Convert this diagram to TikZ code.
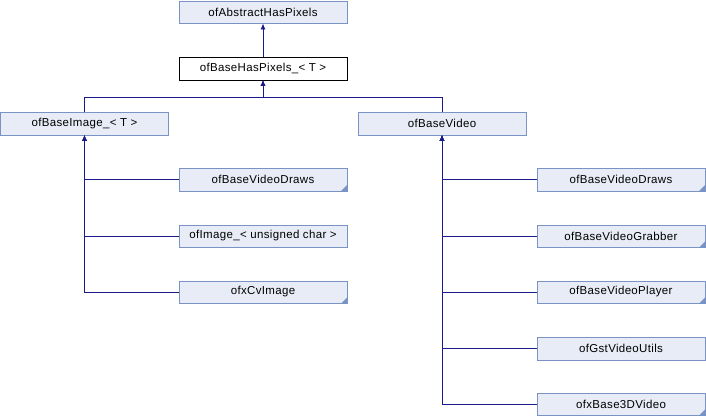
\documentclass[tikz,border=0pt]{standalone}
\usepackage{fontspec}
\setmainfont[LetterSpace=3]{Liberation Sans}
\usetikzlibrary{arrows.meta}
\definecolor{boxfill}{HTML}{E8ECF6}
\definecolor{boxline}{HTML}{7A93C5}
\definecolor{edgecol}{HTML}{1A1A8C}
\tikzset{
	classbox/.style={draw=boxline, fill=boxfill, minimum width=168pt, minimum height=22.5pt, inner sep=0pt, font=\fontsize{11.5pt}{13pt}\selectfont},
	edge/.style={draw=edgecol, line width=0.9pt, -{Latex[length=6pt,width=5pt]}},
	corner/.style={fill=boxline}
}
\begin{document}
\begin{tikzpicture}[x=1pt,y=1pt]
	\useasboundingbox (0,0) rectangle (706,-416);
	\node[classbox] (abs) at (263,-12) {ofAbstractHasPixels};
	\node[classbox, draw=black, fill=white] (base) at (263,-68.5) {ofBaseHasPixels\_< T >};
	\node[classbox] (img) at (84.5,-123.5) {ofBaseImage\_< T >};
	\node[classbox] (vid) at (442,-123.5) {ofBaseVideo};
	\node[classbox] (ldraws) at (263,-179.5) {ofBaseVideoDraws};
	\node[classbox] (limg) at (263,-236) {ofImage\_< unsigned char >};
	\node[classbox] (cvimg) at (263,-292) {ofxCvImage};
	\node[classbox] (rdraws) at (621,-179.5) {ofBaseVideoDraws};
	\node[classbox] (grab) at (621,-236) {ofBaseVideoGrabber};
	\node[classbox] (play) at (621,-292) {ofBaseVideoPlayer};
	\node[classbox] (gst) at (621,-348.5) {ofGstVideoUtils};
	\node[classbox] (vid3d) at (621,-404) {ofxBase3DVideo};
	\coordinate (bus) at (263,-97);
	% corner marks
	\foreach \n in {ldraws, cvimg, rdraws, grab, play, vid3d}
		\fill[corner] (\n.south east) -- ++(-6,0) -- ++(6,6) -- cycle;
	% inheritance
	\draw[edge] (base.north) -- (abs.south);
	\draw[edge] (img.north) |- (bus) -- (base.south);
	\draw[edge] (vid.north) |- (bus) -- (base.south);
	\foreach \n in {ldraws, limg, cvimg}
		\draw[edge] (\n.west) -| (img.south);
	\foreach \n in {rdraws, grab, play, gst, vid3d}
		\draw[edge] (\n.west) -| (vid.south);
\end{tikzpicture}
\end{document}
